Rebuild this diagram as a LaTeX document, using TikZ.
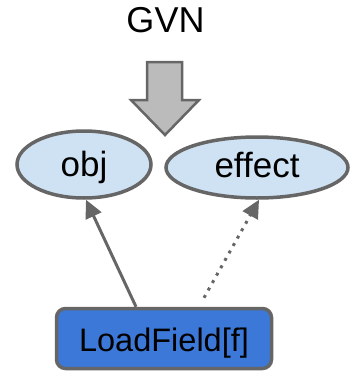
\documentclass[tikz,border=0pt]{standalone}
\usepackage{fontspec}
\setmainfont{Liberation Sans}
\usetikzlibrary{shapes.geometric,arrows.meta}
\definecolor{edgegray}{HTML}{666666}
\definecolor{arrowfill}{HTML}{BBBBBB}
\definecolor{valuefill}{HTML}{CFE2F3}
\definecolor{opfill}{HTML}{3C78D8}
\tikzset{
  value/.style={ellipse, draw=edgegray, line width=3.5pt, fill=valuefill,
    inner sep=0pt, font=\fontsize{35}{40}\selectfont, text depth=0pt},
  opbox/.style={rectangle, rounded corners=9pt, draw=edgegray, line width=3.5pt,
    fill=opfill, inner sep=0pt, minimum width=215pt, minimum height=60pt,
    font=\fontsize{32.5}{38}\selectfont, text height=25pt, text depth=0pt},
  dep/.style={draw=edgegray, line width=3pt,
    -{Triangle[length=18pt,width=17pt]}},
  bigarrow/.style={draw=edgegray, line width=2.5pt, fill=arrowfill, line join=miter}
}
\begin{document}
\begin{tikzpicture}[x=1pt,y=-1pt]
  \useasboundingbox (0,0) rectangle (351,372);
  % pass name
  \node[anchor=base, inner sep=0pt, font=\fontsize{36}{42}\selectfont] (gvn) at (165.5,32.5) {GVN};
  % downward block arrow
  \draw[bigarrow] (147,62) -- (182,62) -- (182,100) -- (199,100) -- (165,135)
    -- (131,100) -- (147,100) -- cycle;
  % inputs
  \node[value, minimum width=134pt, minimum height=67pt, text height=24pt] (obj) at (84,164.5) {obj};
  \node[value, minimum width=182pt, minimum height=61pt, text height=19pt] (effect) at (257,167.5) {effect};
  % the load
  \node[opbox] (lf) at (164,338.5) {LoadField[f]};
  % dependencies
  \draw[dep] ([xshift=-28pt]lf.north) -- ([xshift=2pt]obj.south);
  \draw[dep, dash pattern=on 3pt off 5.5pt] ([xshift=40pt,yshift=9pt]lf.north) -- ([xshift=2pt]effect.south);
\end{tikzpicture}
\end{document}
